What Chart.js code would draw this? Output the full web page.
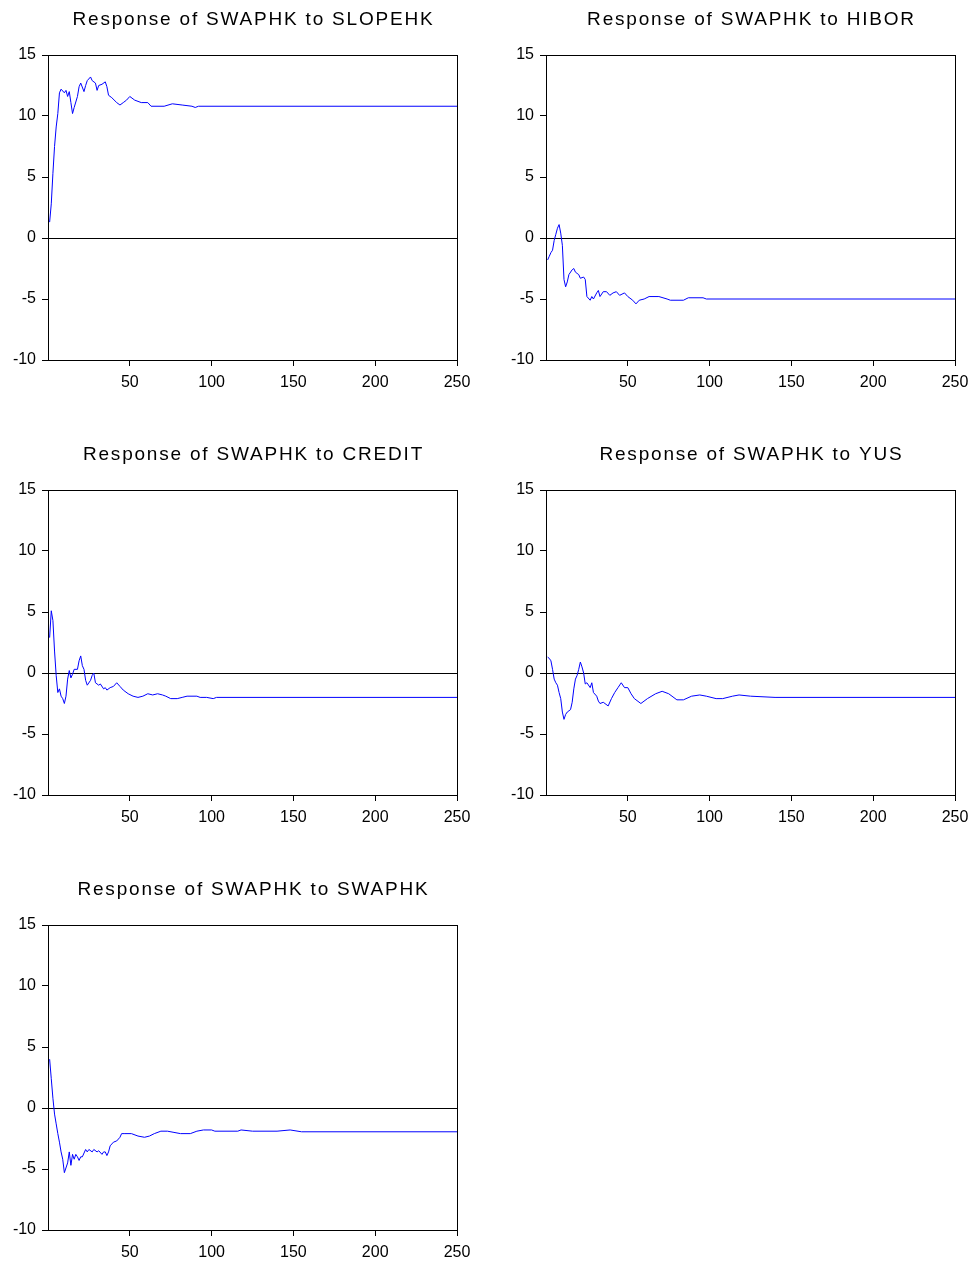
<!DOCTYPE html>
<html>
<head>
<meta charset="utf-8">
<title>Impulse responses of SWAPHK</title>
<script src="https://cdn.jsdelivr.net/npm/chart.js@4.4.0/dist/chart.umd.min.js"></script>
<style>
    body { margin: 0; background: #fff; width: 972px; height: 1264px; overflow: hidden; position: relative; }
    .panel { position: absolute; width: 474px; height: 400px; }
</style>
</head>
<body>
<div class="panel" style="left:0;top:0"><canvas id="chart-slopehk" width="474" height="400"></canvas></div>
<div class="panel" style="left:498px;top:0"><canvas id="chart-hibor" width="474" height="400"></canvas></div>
<div class="panel" style="left:0;top:435px"><canvas id="chart-credit" width="474" height="400"></canvas></div>
<div class="panel" style="left:498px;top:435px"><canvas id="chart-yus" width="474" height="400"></canvas></div>
<div class="panel" style="left:0;top:870px"><canvas id="chart-swaphk" width="474" height="400"></canvas></div>

<script>
// values (period, response)
var xTicks = [50, 100, 150, 200, 250];
var yTicks = [-10, -5, 0, 5, 10, 15];

var slopePeriods = [1, 2, 3, 4, 5, 6, 7, 8, 10, 11, 12, 13, 14, 15, 16, 18, 19, 20, 22, 23, 24, 26, 27, 29, 30, 31, 33, 35, 36, 37, 39, 42, 44, 46, 48, 50, 53, 57, 61, 63, 71, 76, 82, 88, 90, 92, 250];
var slopeValues = [1.3, 2.8, 5.3, 7.5, 9.1, 10.2, 11.9, 12.2, 11.9, 12.1, 11.6, 12, 11.1, 10.2, 10.7, 11.6, 12.4, 12.7, 12, 12.5, 12.9, 13.2, 12.9, 12.7, 12.1, 12.5, 12.6, 12.8, 12.4, 11.7, 11.5, 11.1, 10.9, 11.1, 11.3, 11.6, 11.3, 11.1, 11.1, 10.8, 10.8, 11, 10.9, 10.8, 10.7, 10.8, 10.8];

var hiborPeriods = [1, 2, 3, 4, 5, 6, 7, 8, 9, 10, 11, 12, 13, 14, 16, 17, 18, 19, 20, 21, 23, 24, 25, 27, 28, 29, 31, 32, 33, 35, 37, 39, 41, 43, 45, 48, 50, 53, 55, 57, 60, 63, 69, 74, 76, 84, 87, 96, 98, 250];
var hiborValues = [-1.8, -1.5, -1.2, -1, -0.2, 0.3, 0.8, 1.1, 0.4, -0.6, -3.4, -4, -3.6, -3, -2.6, -2.5, -2.8, -2.9, -3, -3.3, -3.2, -3.4, -4.8, -5.1, -4.8, -5, -4.5, -4.3, -4.8, -4.4, -4.4, -4.7, -4.5, -4.4, -4.7, -4.5, -4.8, -5.1, -5.4, -5.1, -5, -4.8, -4.8, -5, -5.1, -5.1, -4.9, -4.9, -5, -5];

var creditPeriods = [1, 2, 3, 4, 5, 6, 7, 8, 9, 10, 11, 12, 13, 14, 15, 16, 18, 19, 20, 21, 22, 23, 24, 26, 27, 28, 29, 31, 32, 34, 35, 36, 38, 40, 42, 44, 46, 49, 52, 55, 58, 61, 64, 67, 70, 72, 75, 79, 82, 85, 91, 93, 97, 101, 103, 250];
var creditValues = [2.9, 5.1, 4.3, 1.8, -0.2, -1.6, -1.3, -1.9, -2.1, -2.5, -1.9, -0.5, 0.2, -0.4, -0.1, 0.3, 0.3, 1, 1.4, 0.6, 0.3, -0.6, -1, -0.6, -0.2, 0, -0.8, -1, -0.9, -1.3, -1.2, -1.4, -1.2, -1.1, -0.8, -1.1, -1.4, -1.7, -1.9, -2, -1.9, -1.7, -1.8, -1.7, -1.8, -1.9, -2.1, -2.1, -2, -1.9, -1.9, -2, -2, -2.1, -2, -2];

var yusPeriods = [1, 2, 3, 4, 5, 6, 7, 8, 9, 10, 11, 12, 13, 15, 16, 17, 18, 19, 20, 21, 22, 23, 24, 25, 27, 28, 29, 31, 32, 33, 35, 38, 40, 42, 44, 46, 48, 50, 52, 54, 58, 62, 67, 71, 75, 80, 84, 89, 94, 98, 104, 108, 114, 118, 125, 140, 250];
var yusValues = [1.3, 1.2, 1, 0.3, -0.5, -0.8, -1, -1.6, -2.1, -3.2, -3.8, -3.4, -3.2, -3, -2.4, -1.3, -0.5, -0.2, 0.3, 0.9, 0.5, 0, -0.9, -0.8, -1.2, -0.8, -1.6, -1.9, -2.3, -2.5, -2.4, -2.7, -2.1, -1.6, -1.2, -0.8, -1.2, -1.2, -1.7, -2.1, -2.5, -2.1, -1.7, -1.5, -1.7, -2.2, -2.2, -1.9, -1.8, -1.9, -2.1, -2.1, -1.9, -1.8, -1.9, -2, -2];

var swapPeriods = [1, 2, 3, 4, 5, 6, 7, 8, 9, 10, 12, 13, 14, 15, 16, 17, 18, 19, 20, 21, 23, 24, 25, 27, 28, 30, 31, 33, 34, 35, 36, 37, 38, 40, 42, 44, 45, 47, 51, 55, 59, 62, 65, 69, 73, 77, 81, 87, 91, 95, 100, 102, 116, 118, 125, 140, 148, 155, 250];
var swapValues = [4, 2.4, 0.8, -0.5, -1.3, -2.1, -2.8, -3.6, -4.2, -5.3, -4.5, -3.6, -4.7, -3.8, -4.2, -3.8, -4, -4.3, -4, -4, -3.4, -3.6, -3.4, -3.6, -3.4, -3.6, -3.5, -3.8, -3.6, -3.6, -3.9, -3.6, -3.1, -2.8, -2.7, -2.4, -2.1, -2.1, -2.1, -2.3, -2.4, -2.3, -2.1, -1.9, -1.9, -2, -2.1, -2.1, -1.9, -1.8, -1.8, -1.9, -1.9, -1.8, -1.9, -1.9, -1.8, -1.95, -1.95];

// box around the plot area + spaced-out title above it
var framePlugin = {
    id: 'frame',
    afterDraw: function (chart, args, opts) {
        var a = chart.chartArea;
        var ctx = chart.ctx;
        ctx.save();
        ctx.strokeStyle = '#000';
        ctx.lineWidth = 1;
        ctx.strokeRect(Math.round(a.left) + 0.5, Math.round(a.top) + 0.5,
            Math.round(a.right - a.left), Math.round(a.bottom - a.top));

        ctx.fillStyle = '#000';
        ctx.font = '19px "Liberation Sans", Arial, sans-serif';
        ctx.textAlign = 'center';
        ctx.textBaseline = 'middle';
        ctx.letterSpacing = '1.8px';
        ctx.fillText(opts.text, (a.left + a.right) / 2 + 1, 20);
        ctx.restore();
    }
};

// keep the plot box fixed: no extra room for overhanging tick labels
function noOverhang(s) {
    s.paddingLeft = 0;
    s.paddingRight = 0;
    s.paddingTop = 0;
    s.paddingBottom = 0;
}

function makePanel(id, title, periods, values) {
    var ctx = document.getElementById(id).getContext('2d');
    var points = periods.map(function (p, i) { return {x: p, y: values[i]}; });
    return new Chart(ctx, {
        type: 'line',
        data: {
            datasets: [{
                data: points,
                borderColor: '#0000ff',
                borderWidth: 1,
                pointRadius: 0,
                tension: 0,
                fill: false
            }]
        },
        options: {
            responsive: false,
            animation: false,
            layout: {padding: {left: 0, right: 17, top: 55, bottom: 0}},
            plugins: {
                legend: {display: false},
                tooltip: {enabled: false},
                title: {display: false},
                frame: {text: title}
            },
            scales: {
                x: {
                    type: 'linear',
                    min: 0, max: 250,
                    afterBuildTicks: function (s) { s.ticks = xTicks.map(function (v) { return {value: v}; }); },
                    afterFit: function (s) { s.height = 40; noOverhang(s); },
                    grid: {drawOnChartArea: false, tickLength: 6, tickColor: '#000'},
                    border: {color: '#000'},
                    ticks: {color: '#000', font: {size: 16}, padding: 7, maxRotation: 0}
                },
                y: {
                    min: -10, max: 15,
                    afterBuildTicks: function (s) { s.ticks = yTicks.map(function (v) { return {value: v}; }); },
                    afterFit: function (s) { s.width = 48; noOverhang(s); },
                    grid: {
                        color: function (c) { return c.tick && c.tick.value === 0 ? '#000' : 'rgba(0,0,0,0)'; },
                        tickColor: '#000',
                        tickLength: 6
                    },
                    border: {color: '#000'},
                    ticks: {color: '#000', font: {size: 16}, padding: 6}
                }
            }
        },
        plugins: [framePlugin]
    });
}

Chart.defaults.font.family = '"Liberation Sans", Arial, sans-serif';

makePanel('chart-slopehk', 'Response of SWAPHK to SLOPEHK', slopePeriods, slopeValues);
makePanel('chart-hibor', 'Response of SWAPHK to HIBOR', hiborPeriods, hiborValues);
makePanel('chart-credit', 'Response of SWAPHK to CREDIT', creditPeriods, creditValues);
makePanel('chart-yus', 'Response of SWAPHK to YUS', yusPeriods, yusValues);
makePanel('chart-swaphk', 'Response of SWAPHK to SWAPHK', swapPeriods, swapValues);
</script>
</body>
</html>
